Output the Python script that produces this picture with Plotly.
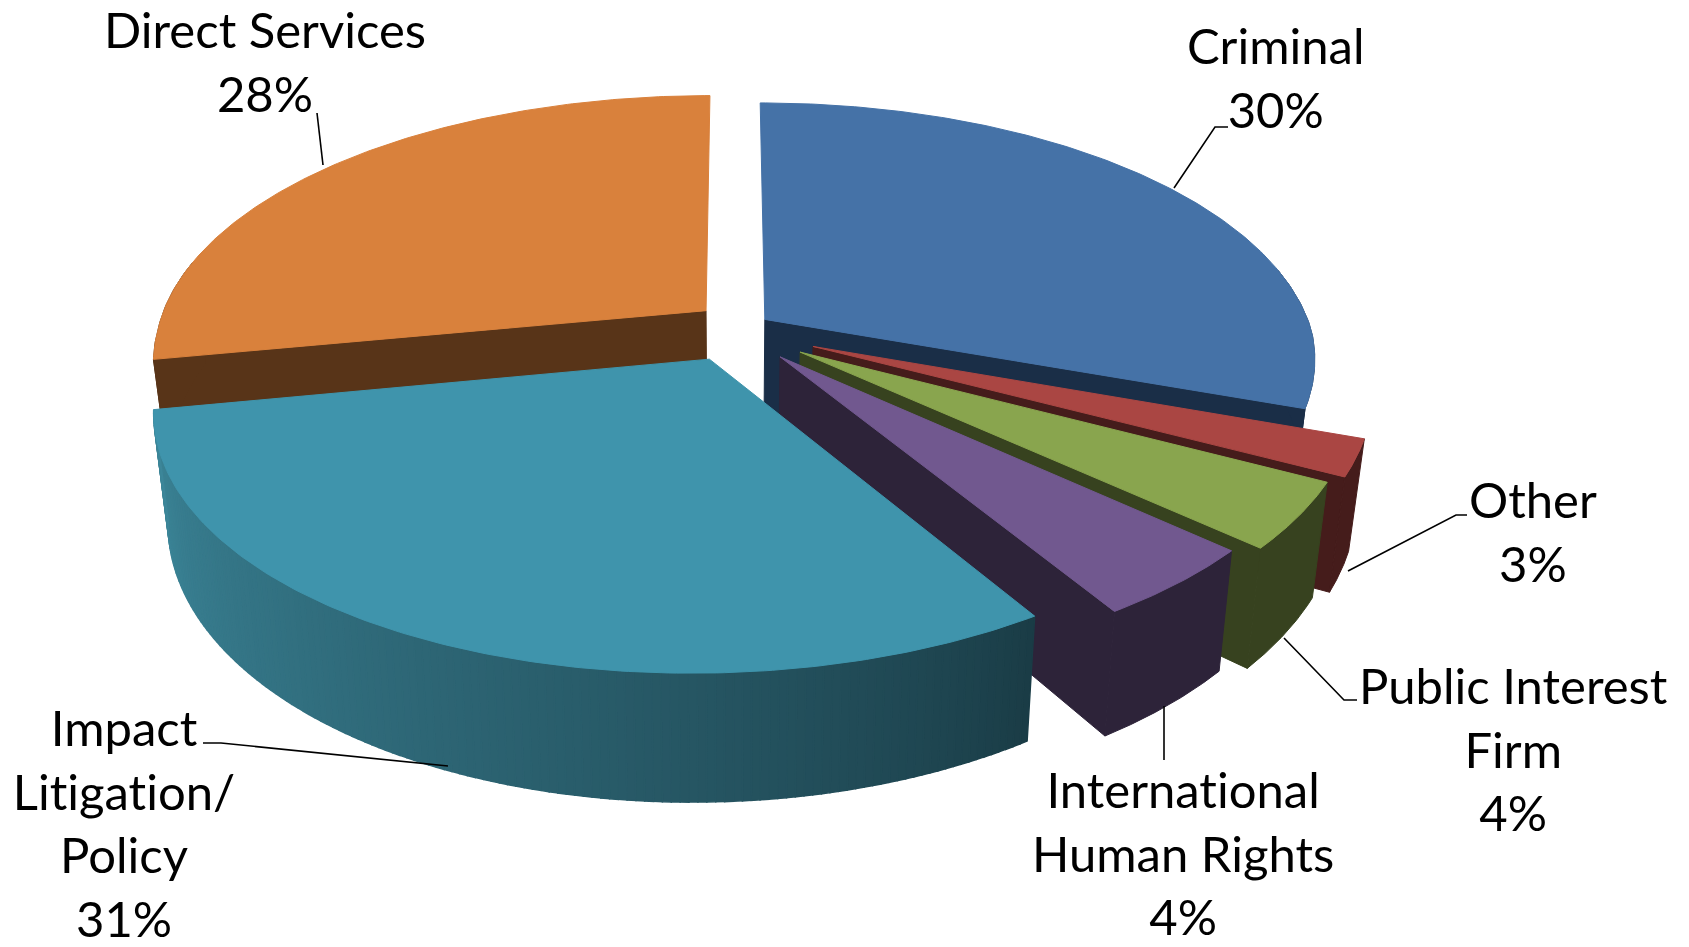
import numpy as np
import plotly.graph_objects as go

# Data
categories = ["Criminal", "Other", "Public Interest Firm", "International Human Rights",
              "Impact Litigation/ Policy", "Direct Services"]
values = [30.4, 2.2, 4.0, 4.4, 31.0, 28.0]
label_lines = [["Criminal"], ["Other"], ["Public Interest", "Firm"], ["International", "Human Rights"],
               ["Impact", "Litigation/", "Policy"], ["Direct Services"]]
shown_percent = [30, 3, 4, 4, 31, 28]

# Styles
top_colors = ["#4572A7", "#AA4643", "#89A54E", "#71588F", "#3F94AC", "#D9813C"]
wall_colors = ["#1A2E47", "#451C1B", "#37421F", "#2D2339", "#1A3C46", "#583418"]
pulls = [0.072, 0.16, 0.15, 0.135, 0.10, 0.065]
radii = [1.003, 1.0, 0.99, 0.975, 0.98, 1.008]
lifts = [0.0, 0.0, 0.0, 0.0, -0.02, 0.035]
label_pos = [(1276, 77), (1533, 531), (1513, 748), (1183, 852), (124, 822), (265, 61)]
leaders = [
    [(1174, 188), (1215, 127), (1228, 127)],
    [(1348, 571), (1456, 515), (1467, 515)],
    [(1284, 638), (1344, 700), (1357, 700)],
    [(1164, 706), (1164, 760)],
    [(448, 766), (221, 743), (203, 743)],
    [(323, 165), (317, 113)],
]
FONT = "Lato, Carlito, Calibri, sans-serif"
FONT_SIZE = 49

# Projection
CX, CY, A, B, K, D, SHRINK, SHEAR = 733, 330, 545, 256, 0.17, 105, 0.975, 14


def proj(u, v, bottom=False):
    w = 1 + K * v
    X = CX + A * u / w + SHEAR * np.minimum(v, 0)
    Y = CY - B * v / w
    if bottom:
        X = CX + (X - CX) * SHRINK
        Y = Y + D / w
    return X, Y


def slice_uv(angles, i, mid):
    t = np.radians(angles)
    m = np.radians(mid)
    return (radii[i] * np.sin(t) + pulls[i] * np.sin(m),
            radii[i] * np.cos(t) + pulls[i] * np.cos(m) + lifts[i])


fig = go.Figure()


def poly(xs, ys, color, name, lw=1.0):
    fig.add_trace(go.Scatter(x=np.append(xs, xs[0]), y=np.append(ys, ys[0]), mode="lines", fill="toself",
                             fillcolor=color, line=dict(color=color, width=lw), name=name,
                             hoverinfo="skip", showlegend=False))


def mix(c1, c2, f):
    a = [int(c1[i:i + 2], 16) for i in (1, 3, 5)]
    b = [int(c2[i:i + 2], 16) for i in (1, 3, 5)]
    return "rgb(%d,%d,%d)" % tuple(round(p + (q - p) * f) for p, q in zip(a, b))


edges = np.cumsum([0] + values) / sum(values) * 360
spans = [(edges[i], edges[i + 1]) for i in range(len(values))]
order = [0, 5, 1, 2, 3, 4]

for i in order:
    s, e = spans[i]
    name = categories[i]
    mid = (s + e) / 2
    m = np.radians(mid)
    a_u, a_v = np.array([pulls[i] * np.sin(m)]), np.array([pulls[i] * np.cos(m) + lifts[i]])
    ax, ay = proj(a_u, a_v)
    bx, by = proj(a_u, a_v, True)
    angles = np.linspace(s, e, 160)
    u, v = slice_uv(angles, i, mid)
    tx, ty = proj(u, v)
    # radial wall facing the viewer
    wall_angle = s if i == 5 else e
    wu, wv = slice_uv(np.array([wall_angle]), i, mid)
    t_w = proj(wu, wv)
    b_w = proj(wu, wv, True)
    if i != 4:
        poly(np.r_[ax, t_w[0], b_w[0], bx], np.r_[ay, t_w[1], b_w[1], by], wall_colors[i], name)
    # outer wall
    if i == 4:
        n = 140
        steps = np.linspace(s, e, n + 1)
        for j in range(n):
            su, sv = slice_uv(steps[j:j + 2], i, mid)
            t0 = proj(su, sv)
            b0 = proj(su, sv, True)
            col = mix("#1A3C46", "#3C8699", (j / (n - 1)) ** 0.85)
            poly(np.r_[t0[0], b0[0][::-1]], np.r_[t0[1], b0[1][::-1]], col, name, 1.5)
    else:
        keep = np.cos(np.radians(angles)) < 0.2
        ru, rv = u[keep], v[keep]
        rt = proj(ru, rv)
        rb = proj(ru, rv, True)
        poly(np.r_[rt[0], rb[0][::-1]], np.r_[rt[1], rb[1][::-1]], wall_colors[i], name)
    # top face
    poly(np.r_[ax, tx], np.r_[ay, ty], top_colors[i], name)

for pts in leaders:
    fig.add_trace(go.Scatter(x=[q[0] for q in pts], y=[q[1] for q in pts], mode="lines",
                             line=dict(color="black", width=1.6), hoverinfo="skip", showlegend=False))

annotations = []
for lines, pct, (x, y) in zip(label_lines, shown_percent, label_pos):
    annotations.append(dict(x=x, y=y, xref="x", yref="y", showarrow=False, xanchor="center", yanchor="middle",
                            align="center", text="<br>".join(lines + [f"{pct}%"]),
                            font=dict(family=FONT, size=FONT_SIZE, color="black")))

fig.update_layout(
    margin=dict(l=0, r=0, t=0, b=0), paper_bgcolor="white", plot_bgcolor="white", showlegend=False,
    width=1689, height=947,
    xaxis=dict(range=[0, 1689], visible=False, fixedrange=True),
    yaxis=dict(range=[947, 0], visible=False, fixedrange=True),
    annotations=annotations,
)
fig.write_html("out.html", config={"displayModeBar": False}, post_script=
               "document.body.style.margin='0';document.body.style.overflow='hidden';"
               "var st=document.createElement('style');"
               "st.textContent='text,tspan{font-variant-ligatures:none !important;"
               "font-feature-settings:\"liga\" 0,\"clig\" 0,\"dlig\" 0 !important;}';"
               "document.head.appendChild(st);")
